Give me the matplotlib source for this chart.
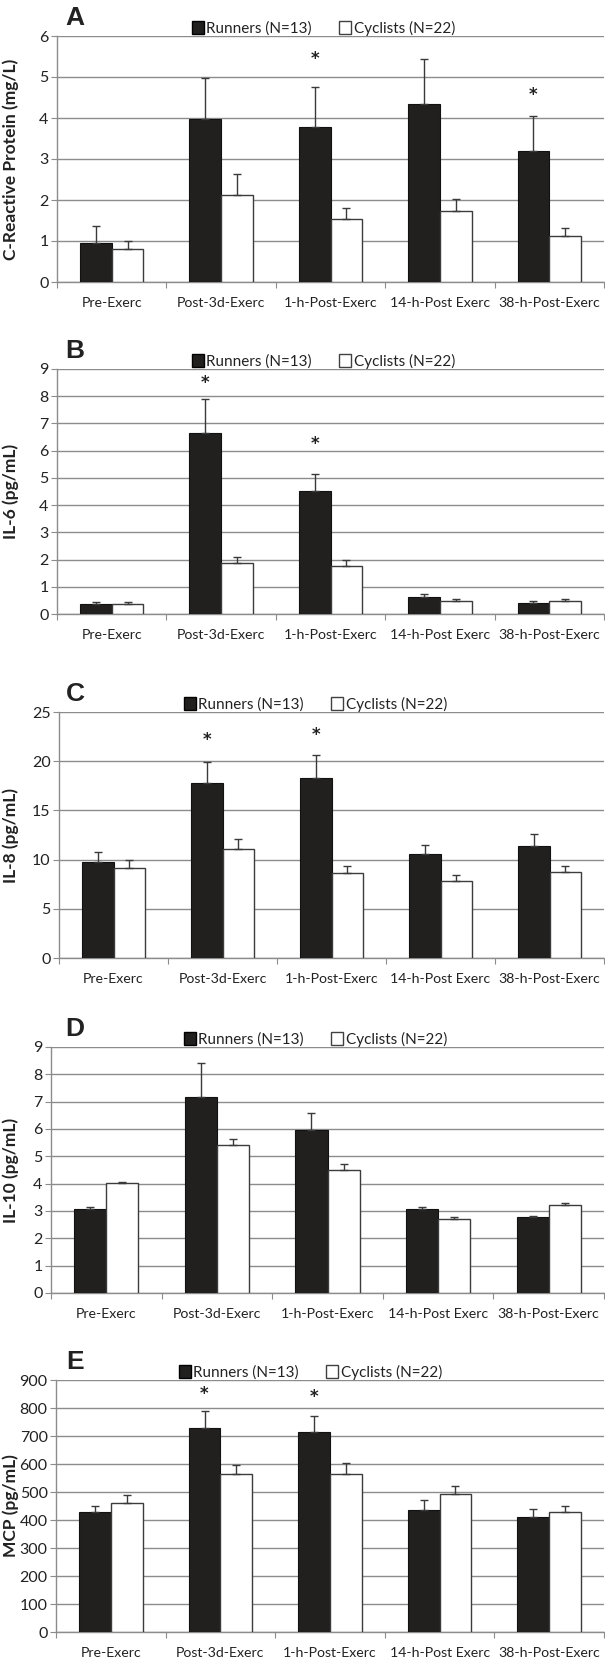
import numpy as np
import matplotlib.pyplot as plt
from matplotlib.patches import Patch

plt.rcParams['font.family'] = ['Lato', 'DejaVu Sans']

categories = ['Pre-Exerc', 'Post-3d-Exerc', '1-h-Post-Exerc', '14-h-Post Exerc', '38-h-Post-Exerc']

# panel A - CRP
crp_run = [0.95, 3.97, 3.78, 4.33, 3.20]
crp_run_err = [0.41, 1.01, 0.98, 1.10, 0.84]
crp_cyc = [0.81, 2.11, 1.54, 1.73, 1.13]
crp_cyc_err = [0.18, 0.52, 0.26, 0.29, 0.19]
crp_star = [None, None, 5.45, None, 4.55]

# panel B - IL-6
il6_run = [0.37, 6.65, 4.51, 0.63, 0.41]
il6_run_err = [0.08, 1.23, 0.62, 0.10, 0.05]
il6_cyc = [0.35, 1.87, 1.78, 0.49, 0.46]
il6_cyc_err = [0.08, 0.23, 0.21, 0.07, 0.08]
il6_star = [None, 8.5, 6.25, None, None]

# panel C - IL-8
il8_run = [9.71, 17.8, 18.34, 10.53, 11.34]
il8_run_err = [1.09, 2.1, 2.24, 0.98, 1.30]
il8_cyc = [9.17, 11.07, 8.63, 7.85, 8.70]
il8_cyc_err = [0.82, 1.02, 0.74, 0.61, 0.67]
il8_star = [None, 22.2, 22.7, None, None]

# panel D - IL-10
il10_run = [3.08, 7.17, 5.97, 3.06, 2.78]
il10_run_err = [0.07, 1.23, 0.62, 0.08, 0.03]
il10_cyc = [4.02, 5.43, 4.50, 2.71, 3.22]
il10_cyc_err = [0.05, 0.22, 0.21, 0.08, 0.08]
il10_star = [None, None, None, None, None]

# panel E - MCP
mcp_run = [429, 729, 713, 436, 412]
mcp_run_err = [20, 62, 57, 36, 29]
mcp_cyc = [461, 564, 565, 492, 427]
mcp_cyc_err = [29, 34, 39, 28, 22]
mcp_star = [None, 850, 840, None, None]

panels = [
    ('A', 'C-Reactive Protein (mg/L)', crp_run, crp_run_err, crp_cyc, crp_cyc_err, crp_star, 6, 1),
    ('B', 'IL-6 (pg/mL)', il6_run, il6_run_err, il6_cyc, il6_cyc_err, il6_star, 9, 1),
    ('C', 'IL-8 (pg/mL)', il8_run, il8_run_err, il8_cyc, il8_cyc_err, il8_star, 25, 5),
    ('D', 'IL-10 (pg/mL)', il10_run, il10_run_err, il10_cyc, il10_cyc_err, il10_star, 9, 1),
    ('E', 'MCP (pg/mL)', mcp_run, mcp_run_err, mcp_cyc, mcp_cyc_err, mcp_star, 900, 100),
]

# pixel layout: axes left, top, bottom, legend start x
W, H = 605, 1663
boxes = [(57, 36, 282, 190), (57, 369, 614, 190), (59, 712, 958, 182),
         (51, 1047, 1293, 182), (56, 1380, 1632, 177)]

fig = plt.figure(figsize=(W / 100, H / 100), dpi=100)
grid_c = '#8c8c8c'
bar_k = '#221f1f'
x = np.arange(len(categories))
w = 0.29

for (letter, ylab, run, run_e, cyc, cyc_e, star, ymax, step), (l, t, b, lg) in zip(panels, boxes):
    aw = W - l - 1
    ax = fig.add_axes([l / W, 1 - b / H, aw / W, (b - t) / H])
    ax.bar(x - w / 2, run, w, color=bar_k, edgecolor='#111111', linewidth=0.8, zorder=3)
    ax.bar(x + w / 2, cyc, w, color='white', edgecolor='#3c3c3c', linewidth=1.0, zorder=3)
    ax.errorbar(x - w / 2, run, yerr=[np.zeros(5), run_e], fmt='none', ecolor='#3a3a3a',
                elinewidth=1.0, capsize=2.6, capthick=1.0, zorder=4)
    ax.errorbar(x + w / 2, cyc, yerr=[np.zeros(5), cyc_e], fmt='none', ecolor='#3a3a3a',
                elinewidth=1.0, capsize=2.6, capthick=1.0, zorder=4)
    for i, s in enumerate(star):
        if s is not None:
            ax.text(x[i] - w / 2, s, '*', ha='center', va='center', fontsize=12,
                    fontweight='bold', family='DejaVu Sans', color='#222222')
    ax.set_xlim(-0.5, 4.5)
    ax.set_ylim(0, ymax)
    ax.set_yticks(np.arange(0, ymax + step / 2, step))
    ax.yaxis.grid(True, color=grid_c, linewidth=1.0, zorder=0)
    ax.set_axisbelow(True)
    ax.set_xticks(np.arange(-0.5, 5, 1))
    ax.set_xticklabels([])
    ax.set_xticks(x, minor=True)
    ax.set_xticklabels(categories, minor=True, fontsize=10.2, color='#222222')
    ax.tick_params(axis='x', which='minor', length=0, pad=11)
    ax.tick_params(axis='x', which='major', length=4, color=grid_c)
    ax.tick_params(axis='y', length=4, color=grid_c, labelsize=11.5, labelcolor='#222222', pad=2)
    for sp in ['top', 'right']:
        ax.spines[sp].set_visible(False)
    for sp in ['left', 'bottom']:
        ax.spines[sp].set_color(grid_c)
        ax.spines[sp].set_linewidth(1.0)
    ax.set_ylabel(ylab, fontsize=12.5, fontweight='bold', color='#222222')
    ax.yaxis.set_label_coords((19 - l) / aw, 0.5)
    handles = [Patch(facecolor=bar_k, edgecolor='black', label='Runners (N=13)'),
               Patch(facecolor='white', edgecolor='#404040', label='Cyclists (N=22)')]
    leg = ax.legend(handles=handles, loc='lower left', bbox_to_anchor=((lg - l) / aw, 0.995),
                    ncol=2, frameon=False, fontsize=11, handlelength=0.8, handleheight=1.0,
                    handletextpad=0.15, columnspacing=1.8, borderaxespad=0.1, borderpad=0)
    for txt in leg.get_texts():
        txt.set_color('#222222')
    fig.text(75 / W, 1 - (t - 18) / H, letter, fontsize=19, fontweight='bold',
             family='Liberation Sans', ha='center', va='center', color='#222222')

fig.savefig('out.png', dpi=100)
